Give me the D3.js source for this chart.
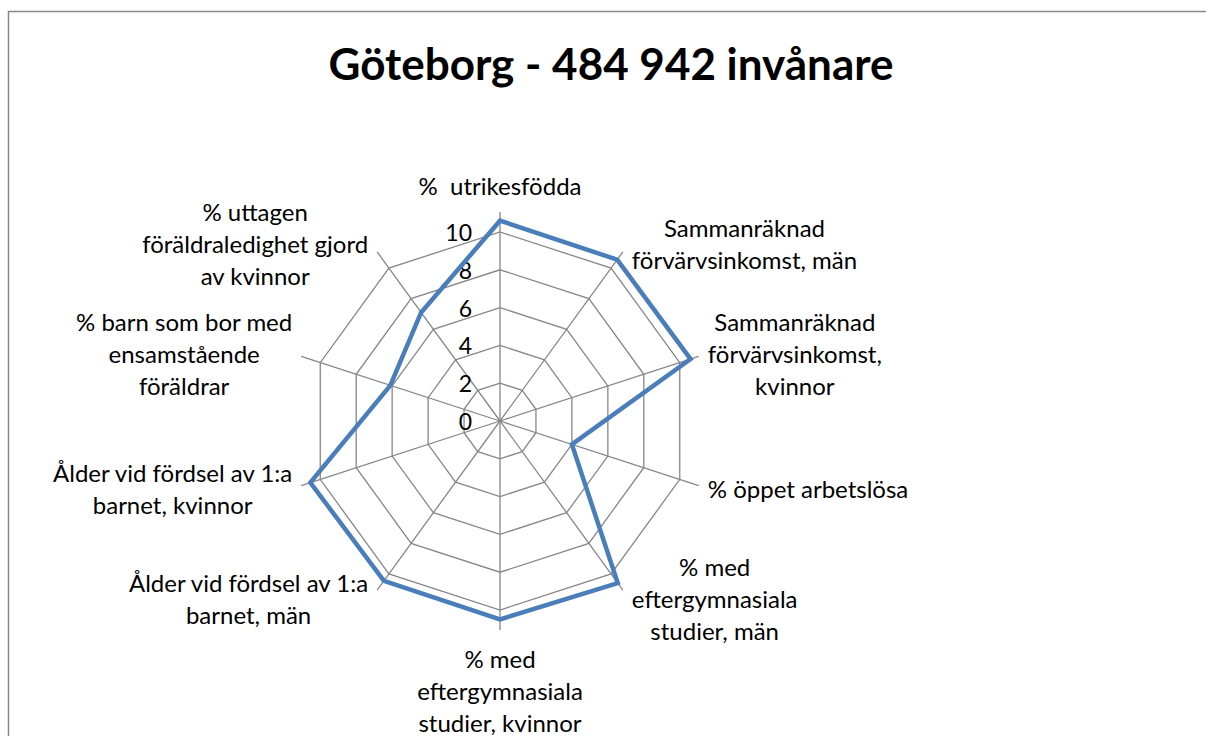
<!DOCTYPE html>
<html>
<head>
<meta charset="utf-8">
<script src="https://cdn.jsdelivr.net/npm/d3@7"></script>
<style>
  body { margin: 0; background: #fff; overflow: hidden; }
  svg { display: block; }
  text { font-family: Lato, "Open Sans", sans-serif; fill: #000; white-space: pre; }
</style>
</head>
<body>
<div id="chart"></div>
<script>
// ||================================||
// || DATA                           ||
// ||================================||

var categories = [
  ["%  utrikesfödda"],
  ["Sammanräknad", "förvärvsinkomst, män"],
  ["Sammanräknad", "förvärvsinkomst,", "kvinnor"],
  ["% öppet arbetslösa"],
  ["% med", "eftergymnasiala", "studier, män"],
  ["% med", "eftergymnasiala", "studier, kvinnor"],
  ["Ålder vid fördsel av 1:a", "barnet, män"],
  ["Ålder vid fördsel av 1:a", "barnet, kvinnor"],
  ["% barn som bor med", "ensamstående", "föräldrar"],
  ["% uttagen", "föräldraledighet gjord", "av kvinnor"]
];

var values = [10.6, 10.55, 10.6, 4.0, 10.6, 10.5, 10.45, 10.55, 6.1, 7.1];

var ticks = [0, 2, 4, 6, 8, 10];

var title = "Göteborg - 484 942 invånare";

// ||================================||
// || CHART                          ||
// ||================================||

var width = 1206,
    height = 736;

var cx = 500,
    cy = 421,
    R = 189,
    spokeExtra = 20,
    lineH = 32,
    gap = 9;

var svg = d3.select("#chart")
  .append("svg")
    .attr("width", width)
    .attr("height", height);

svg.append("rect")
    .attr("x", 8.5)
    .attr("y", 11.5)
    .attr("width", 1230)
    .attr("height", 800)
    .attr("fill", "white")
    .attr("stroke", "#878787")
    .attr("stroke-width", 1.5);

svg.append("text")
    .attr("x", 611)
    .attr("y", 80)
    .attr("text-anchor", "middle")
    .attr("font-weight", "bold")
    .attr("font-size", 44)
    .text(title);

var r = d3.scaleLinear().domain([0, 10]).range([0, R]);

var n = categories.length;
function angle(i) { return i * 2 * Math.PI / n; }

var g = svg.append("g")
    .attr("transform", "translate(" + cx + "," + cy + ")");

// rings
var ring = d3.lineRadial()
    .angle(function(d, i) { return angle(i); })
    .radius(function(d) { return r(d); })
    .curve(d3.curveLinearClosed);

g.selectAll(".ring")
  .data(ticks.filter(function(t) { return t > 0; }))
  .enter().append("path")
    .attr("class", "ring")
    .attr("d", function(t) { return ring(categories.map(function() { return t; })); })
    .attr("fill", "none")
    .attr("stroke", "#878787")
    .attr("stroke-width", 1.3);

// spokes
g.selectAll(".spoke")
  .data(categories)
  .enter().append("line")
    .attr("class", "spoke")
    .attr("x1", 0)
    .attr("y1", 0)
    .attr("x2", function(d, i) { return (R + spokeExtra) * Math.sin(angle(i)); })
    .attr("y2", function(d, i) { return -(R + spokeExtra) * Math.cos(angle(i)); })
    .attr("stroke", "#878787")
    .attr("stroke-width", 1.3);

// tick labels
g.selectAll(".tick")
  .data(ticks)
  .enter().append("text")
    .attr("class", "tick")
    .attr("x", -28)
    .attr("y", function(t) { return -r(t); })
    .attr("text-anchor", "end")
    .attr("dominant-baseline", "central")
    .attr("font-size", 23)
    .text(function(t) { return t; });

// series
g.append("path")
    .datum(values)
    .attr("d", ring)
    .attr("fill", "none")
    .attr("stroke", "#4a7ebb")
    .attr("stroke-width", 4.5)
    .attr("stroke-linejoin", "miter");

// category labels
var labels = g.selectAll(".label")
  .data(categories)
  .enter().append("text")
    .attr("class", "label")
    .attr("text-anchor", "middle")
    .attr("font-size", 24);

labels.each(function(lines, i) {
  var el = d3.select(this);
  lines.forEach(function(line) {
    el.append("tspan").text(line);
  });
  var w = d3.max(el.selectAll("tspan").nodes(), function(t) { return t.getComputedTextLength(); });
  var a = angle(i),
      s = Math.sin(a),
      c = Math.cos(a),
      ex = (R + spokeExtra) * s,
      ey = -(R + spokeExtra) * c,
      boxH = lines.length * lineH,
      x, top;
  if (Math.abs(s) < 0.1) {
    x = ex;
    top = c > 0 ? ey - gap - 2 - boxH : ey + gap + 3;
  } else {
    x = s > 0 ? ex + gap + w / 2 : ex - gap - w / 2;
    top = ey - c * 11 - boxH / 2;
  }
  el.selectAll("tspan")
      .attr("x", x)
      .attr("y", function(d, k) { return top + lineH * (k + 0.5); })
      .attr("dominant-baseline", "central");
});
</script>
</body>
</html>
